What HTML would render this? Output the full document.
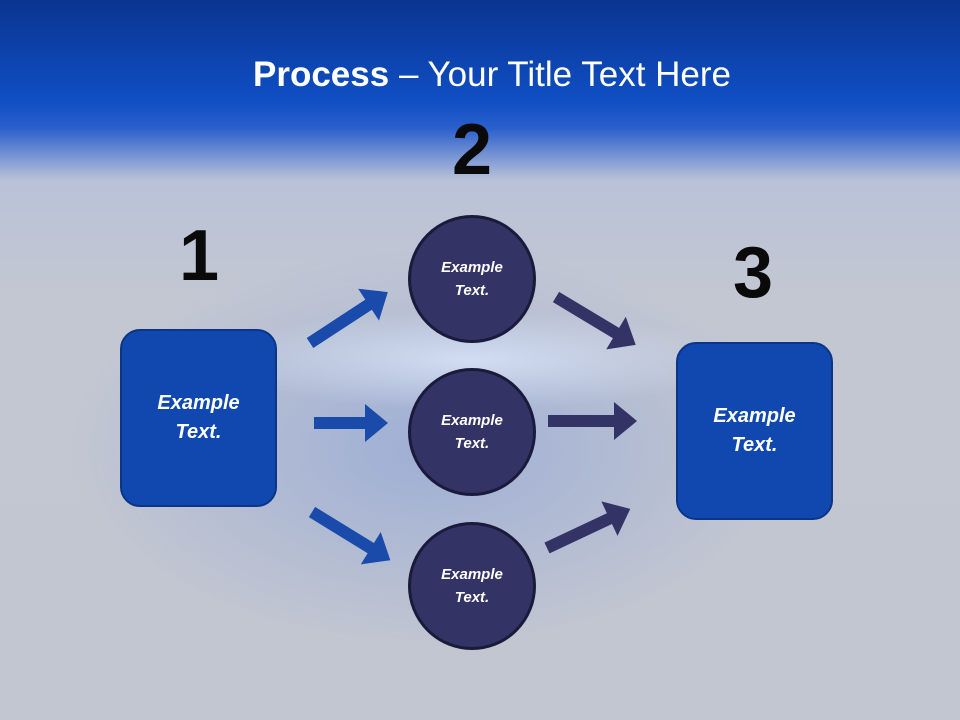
<!DOCTYPE html>
<html><head><meta charset="utf-8"><style>
html,body{margin:0;padding:0}
body{width:960px;height:720px;overflow:hidden;position:relative;font-family:"Liberation Sans",sans-serif;
background:
radial-gradient(ellipse 260px 50px at 470px 360px, rgba(225,235,255,0.7), rgba(225,235,255,0) 100%),
radial-gradient(ellipse 360px 200px at 430px 450px, rgba(90,130,220,0.35), rgba(90,130,220,0) 100%),
linear-gradient(180deg,#0a3590 0px,#0f4ec4 100px,#2a5fcc 128px,#b9c2d8 180px,#c3c7d2 300px,#c2c6d0 720px);}
.t{position:absolute;color:#fff;left:0;width:984px;text-align:center;top:55px;font-size:35px}
.n{position:absolute;font-weight:bold;font-size:72px;color:#0a0a0a;transform:translate(-50%,-50%)}
.box{position:absolute;width:153px;height:174px;border-radius:20px;background:#1048b0;border:2px solid #0b3585;display:flex;align-items:center;justify-content:center;text-align:center;color:#fff;font-style:italic;font-weight:bold;font-size:20px;line-height:29px}
.c{position:absolute;width:122px;height:122px;border-radius:50%;background:#333366;border:3px solid #1a1a3a;display:flex;align-items:center;justify-content:center;text-align:center;color:#fff;font-style:italic;font-weight:bold;font-size:15px;line-height:23px}
</style></head><body>
<div class="t"><b>Process</b> – Your Title Text Here</div>
<div class="n" style="left:472px;top:150px">2</div>
<div class="n" style="left:199px;top:256px">1</div>
<div class="n" style="left:753px;top:273px">3</div>
<div class="box" style="left:120px;top:329px">Example<br>Text.</div>
<div class="box" style="left:676px;top:342px">Example<br>Text.</div>
<div class="c" style="left:408px;top:215px">Example<br>Text.</div>
<div class="c" style="left:408px;top:368px">Example<br>Text.</div>
<div class="c" style="left:408px;top:522px">Example<br>Text.</div>
<svg width="960" height="720" style="position:absolute;left:0;top:0">
<g fill="#1a4aaa">
<path transform="translate(310,343) rotate(-33.2)" d="M0,-6L70,-6L70,-19L93,0L70,19L70,6L0,6Z"/>
<path transform="translate(314,423)" d="M0,-6L51,-6L51,-19L74,0L51,19L51,6L0,6Z"/>
<path transform="translate(312,512) rotate(31.6)" d="M0,-6L69,-6L69,-19L92,0L69,19L69,6L0,6Z"/>
</g>
<g fill="#333366">
<path transform="translate(556,297) rotate(31)" d="M0,-6L70,-6L70,-19L93,0L70,19L70,6L0,6Z"/>
<path transform="translate(548,421)" d="M0,-6L66,-6L66,-19L89,0L66,19L66,6L0,6Z"/>
<path transform="translate(547,548) rotate(-25.2)" d="M0,-6L69,-6L69,-19L92,0L69,19L69,6L0,6Z"/>
</g>
</svg>
</body></html>
